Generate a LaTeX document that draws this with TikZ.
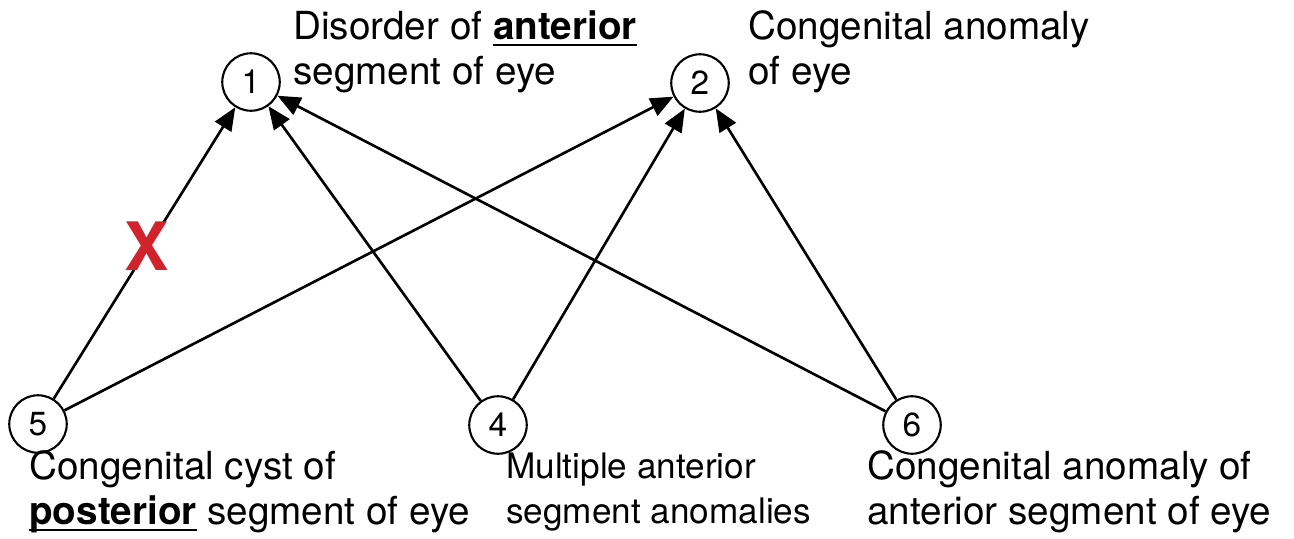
\documentclass[tikz,border=0pt]{standalone}
\usepackage{fontspec}
\setmainfont{TeX Gyre Heros}
\usepackage{xcolor}
\definecolor{crosscolor}{HTML}{D0232B}
\usetikzlibrary{arrows.meta}
\newcommand{\ulbold}[1]{\setbox0\hbox{\textbf{#1}}\rlap{\rule[-3.6pt]{\wd0}{1.4pt}}\box0\relax}

\begin{document}
\begin{tikzpicture}[
  x=0.02cm, y=-0.02cm,
  line width=1.5pt,
  num/.style={circle, draw, line width=1.2pt, inner sep=0pt, minimum size=1.15cm, font=\fontsize{19}{19}\selectfont},
  desc/.style={anchor=west, align=left, inner sep=0pt, font=\fontsize{22}{25.6}\selectfont},
  link/.style={-{Triangle[length=0.46cm, width=0.38cm]}},
]
  \useasboundingbox (0, 0) rectangle (1294, 538);

  \node[num] (n1) at (251, 82) {1};
  \node[num] (n2) at (700, 83) {2};
  \node[num] (n5) at (38, 424) {5};
  \node[num] (n4) at (498, 425) {4};
  \node[num] (n6) at (912, 425) {6};

  \node[desc] (d1) at (292, 52) {Disorder of \ulbold{anterior}\\segment of eye};
  \node[desc] (d2) at (747, 52) {Congenital anomaly\\of eye};
  \node[desc] (d5) at (28, 492) {Congenital cyst of\\\ulbold{posterior} segment of eye};
  \node[desc, font=\fontsize{20}{25.6}\selectfont] (d4) at (505, 492) {Multiple anterior\\segment anomalies};
  \node[desc] (d6) at (866, 492) {Congenital anomaly of\\anterior segment of eye};

  \foreach \a/\b in {n5/n1, n5/n2, n4/n1, n4/n2, n6/n1, n6/n2}
    \draw[link] (\a) -- (\b);

  \node[text=crosscolor, font=\fontsize{38}{38}\selectfont\bfseries] (cross) at (147, 246) {X};
\end{tikzpicture}
\end{document}
